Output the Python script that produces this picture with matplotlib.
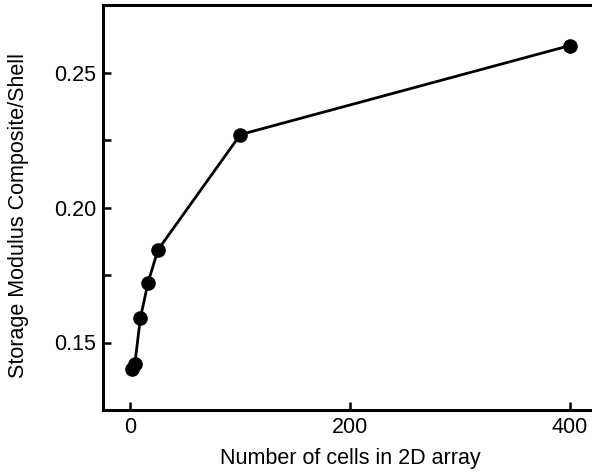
import matplotlib
matplotlib.use("Agg")
import matplotlib.pyplot as plt
from matplotlib.ticker import MultipleLocator

cells = [1, 4, 9, 16, 25, 100, 400]
modulus = [0.1403, 0.1421, 0.1590, 0.1722, 0.1843, 0.2270, 0.2600]
xticks = [0, 200, 400]
yticks = [0.15, 0.20, 0.25]

plt.rcParams['font.family'] = ['Liberation Sans', 'DejaVu Sans']
fig = plt.figure(figsize=(5.92, 4.75), dpi=100)
ax = fig.add_axes([103/592, 65/475, 494.5/592, 405/475])
ax.plot(cells, modulus, color='black', lw=2.0, marker='o', ms=9.5, zorder=3)
ax.set_xlim(-25, 425)
ax.set_ylim(0.125, 0.275)
ax.set_xticks(xticks)
ax.set_xticklabels([str(v) for v in xticks])
ax.set_yticks(yticks)
ax.set_yticklabels([f"{v:.2f}" for v in yticks])
ax.yaxis.set_minor_locator(MultipleLocator(0.025))
ax.tick_params(which='both', direction='in', length=6, width=1.8, labelsize=15.5, pad=5)
for s in ax.spines.values():
    s.set_linewidth(2.2)
ax.set_xlabel("Number of cells in 2D array", fontsize=15.5, labelpad=7)
ax.set_ylabel("Storage Modulus Composite/Shell", fontsize=15.5)
ax.yaxis.set_label_coords(-0.15, 0.48)
fig.savefig("out.png", dpi=100)
